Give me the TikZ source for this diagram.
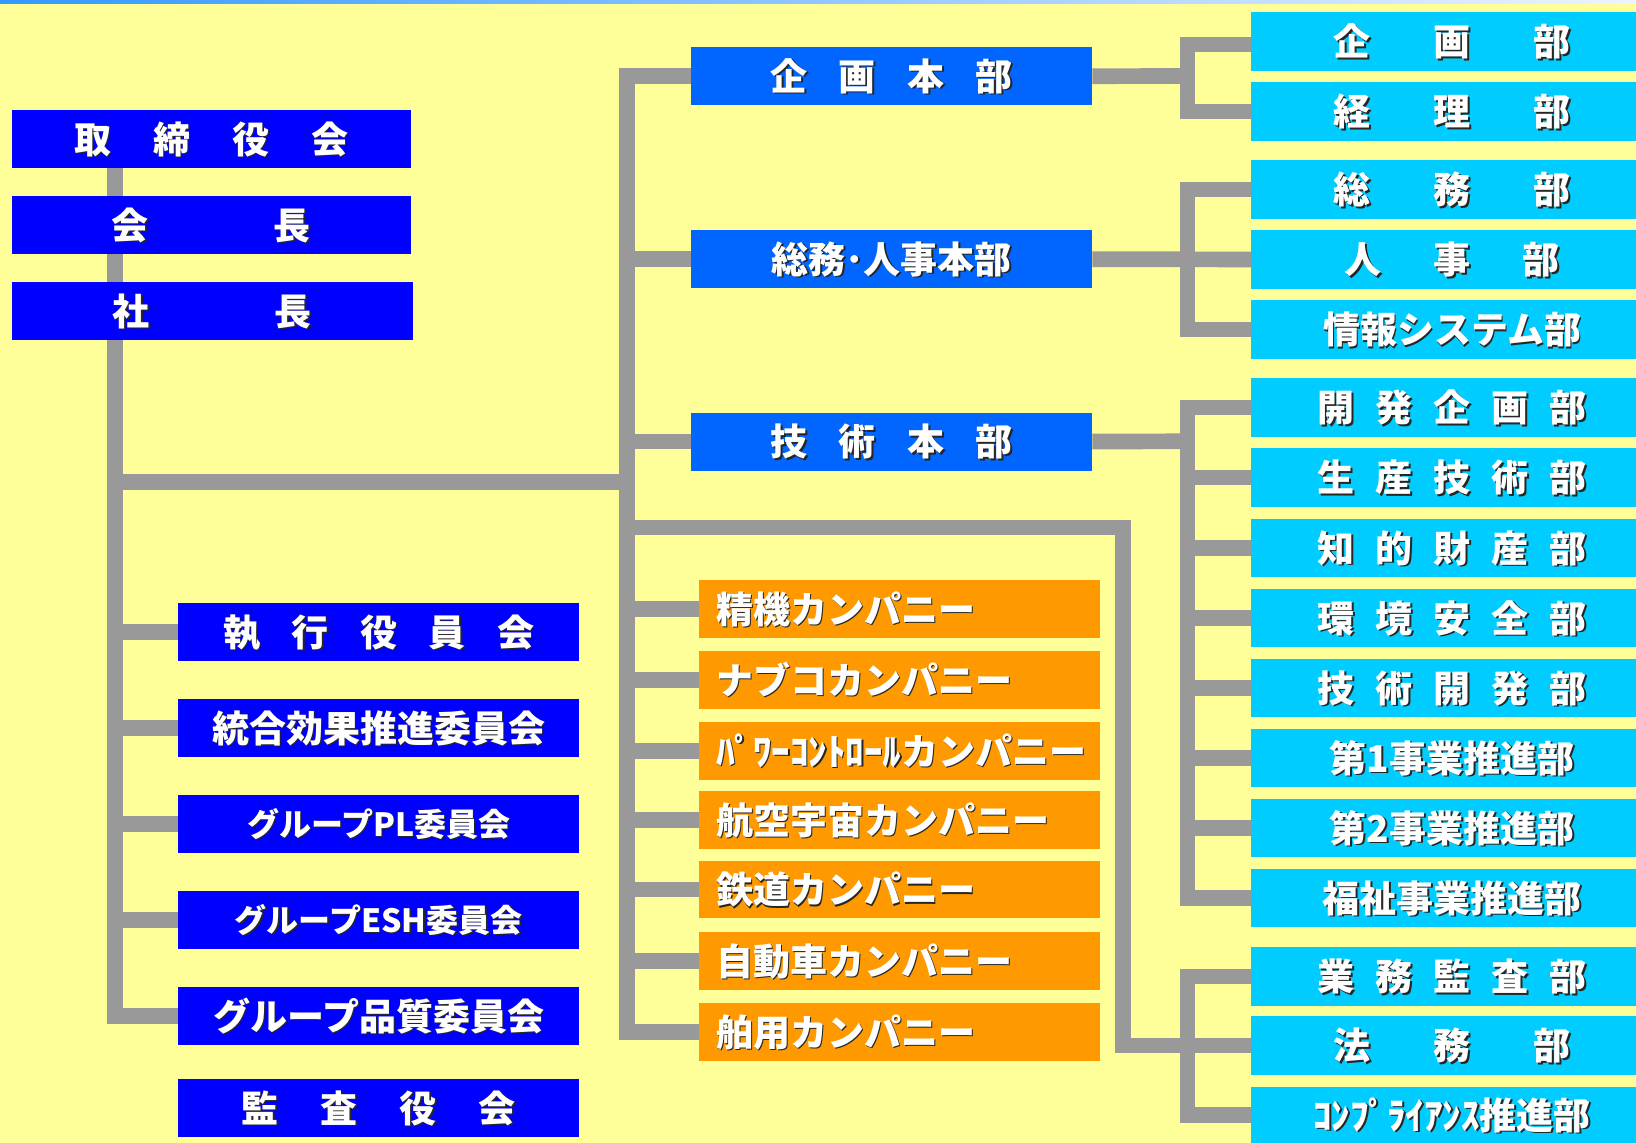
\documentclass[tikz,border=0pt]{standalone}
\usepackage{fontspec}
\newfontfamily\jp{Noto Sans CJK JP}
\usetikzlibrary{calc}
\definecolor{bgy}{HTML}{FFFF99}
\definecolor{topblue}{HTML}{0000FF}
\definecolor{hqblue}{HTML}{0066FF}
\definecolor{deptcy}{HTML}{00CCFF}
\definecolor{compor}{HTML}{FF9900}
\definecolor{linegray}{HTML}{999999}
\definecolor{bandblue}{HTML}{3399FF}
\definecolor{bandend}{HTML}{EEF3FF}
\pgfdeclarelayer{bglayer}
\pgfdeclarelayer{linelayer}
\pgfsetlayers{bglayer,linelayer,main}
\newcommand\gp[1]{\hspace*{#1pt}}
\newcommand\shd[1]{\leavevmode\rlap{\kern1.6pt\raisebox{-1.6pt}{\color{black!85}#1}}#1}
\newcommand\fbig{\fontsize{37pt}{37pt}\selectfont}
\newcommand\fsml{\fontsize{32pt}{32pt}\selectfont}
\newcommand\cmp[1]{\makebox[401pt][l]{\hspace*{17pt}\shd{#1}}}
\newcommand\dpt[1]{\hspace*{17pt}\shd{#1}}
\tikzset{
  box/.style={rectangle, inner sep=0pt, anchor=north west, minimum height=57.7pt,
    text=white, font=\jp\bfseries\fbig, text height=32.6pt, text depth=4.4pt},
  smalltext/.style={font=\jp\bfseries\fsml, text height=28.2pt, text depth=3.8pt},
  topbox/.style={box, fill=topblue, minimum width=398.5pt},
  comm/.style={box, fill=topblue, minimum width=401pt},
  hq/.style={box, fill=hqblue, minimum width=401pt, minimum height=58pt},
  comp/.style={box, fill=compor, minimum width=401pt},
  dept/.style={box, fill=deptcy, minimum width=385pt, minimum height=58.5pt},
  conn/.style={draw=linegray, line width=15.7pt}
}
\begin{document}
\begin{tikzpicture}[x=1pt, y=-1pt]
\useasboundingbox (0,0) rectangle (1636,1143);
\begin{pgfonlayer}{bglayer}
\fill[bgy] (0,0) rectangle (1636,1143);
\shade[left color=bandblue, right color=bandend] (0,0) rectangle (1636,3.7);
\end{pgfonlayer}

% coordinates for trunks
\coordinate (ltop) at (115,167.7);
\coordinate (j1) at (115,482);
\coordinate (j2) at (627,482);
\coordinate (k1) at (627,527.5);
\coordinate (k2) at (1123,527.5);
\coordinate (bA) at (1187.5,76);
\coordinate (bB) at (1187.5,259);
\coordinate (bC) at (1187.5,441.3);
\coordinate (bD) at (1187.5,1045);

% ---------- nodes ----------
\node[topbox] (tor) at (11.9,110) {\shd{取\gp{42}締\gp{42}役\gp{42}会}};
\node[topbox] (kaicho) at (11.9,196) {\shd{会\gp{125}長}};
\node[topbox, minimum width=400.5pt] (shacho) at (11.9,282) {\shd{社\gp{125}長}};

\node[comm] (shikko) at (178,603) {\shd{執\gp{31.6}行\gp{31.6}役\gp{31.6}員\gp{31.6}会}};
\node[comm] (togo) at (178,699) {\shd{統合効果推進委員会}};
\node[comm, smalltext] (pl) at (178,795) {\shd{グループPL委員会}};
\node[comm, smalltext] (esh) at (178,891) {\shd{グループESH委員会}};
\node[comm] (hinshitsu) at (178,987) {\shd{グループ品質委員会}};
\node[comm] (kansa) at (178,1079) {\shd{監\gp{42}査\gp{42}役\gp{42}会}};

\node[hq] (hq1) at (691,47) {\shd{企\gp{31.5}画\gp{31.5}本\gp{31.5}部}};
\node[hq] (hq2) at (691,230) {\shd{総務･人事本部}};
\node[hq] (hq3) at (691,412.3) {\shd{技\gp{31.5}術\gp{31.5}本\gp{31.5}部}};

\node[comp] (c1) at (699,580) {\cmp{精機カンパニー}};
\node[comp] (c2) at (699,651) {\cmp{ナブコカンパニー}};
\node[comp] (c3) at (699,722) {\cmp{ﾊﾟﾜｰｺﾝﾄﾛｰﾙカンパニー}};
\node[comp] (c4) at (699,791) {\cmp{航空宇宙カンパニー}};
\node[comp] (c5) at (699,860.5) {\cmp{鉄道カンパニー}};
\node[comp] (c6) at (699,932) {\cmp{自動車カンパニー}};
\node[comp] (c7) at (699,1003) {\cmp{舶用カンパニー}};

\node[dept] (d1) at (1251,12) {\dpt{企\gp{63}画\gp{63}部}};
\node[dept] (d2) at (1251,82) {\dpt{経\gp{63}理\gp{63}部}};
\node[dept] (d3) at (1251,160) {\dpt{総\gp{63}務\gp{63}部}};
\node[dept] (d4) at (1251,230) {\dpt{人\gp{52}事\gp{52}部}};
\node[dept] (d5) at (1251,300) {\dpt{情報システム部}};
\node[dept] (d6) at (1251,378) {\dpt{開\gp{21}発\gp{21}企\gp{21}画\gp{21}部}};
\node[dept] (d7) at (1251,448) {\dpt{生\gp{21}産\gp{21}技\gp{21}術\gp{21}部}};
\node[dept] (d8) at (1251,518.5) {\dpt{知\gp{21}的\gp{21}財\gp{21}産\gp{21}部}};
\node[dept] (d9) at (1251,588.5) {\dpt{環\gp{21}境\gp{21}安\gp{21}全\gp{21}部}};
\node[dept] (d10) at (1251,658.5) {\dpt{技\gp{21}術\gp{21}開\gp{21}発\gp{21}部}};
\node[dept] (d11) at (1251,728.5) {\dpt{第1事業推進部}};
\node[dept] (d12) at (1251,798.5) {\dpt{第2事業推進部}};
\node[dept] (d13) at (1251,868.5) {\dpt{福祉事業推進部}};
\node[dept] (d14) at (1251,947) {\dpt{業\gp{21}務\gp{21}監\gp{21}査\gp{21}部}};
\node[dept] (d15) at (1251,1016) {\dpt{法\gp{63}務\gp{63}部}};
\node[dept, minimum height=56pt] (d16) at (1251,1087) {\dpt{ｺﾝﾌﾟﾗｲｱﾝｽ推進部}};

% ---------- connectors (behind boxes) ----------
\begin{pgfonlayer}{linelayer}
% left trunk
\draw[conn] (ltop) |- (hinshitsu.west);
\foreach \n in {shikko,togo,pl,esh} \draw[conn] (\n.west) -- (\n.west -| ltop);
\draw[conn] (j1) -- (j2);
% main trunk
\draw[conn] (hq1.west) -| (c7.west -| j2) -- (c7.west);
\foreach \n in {hq2,hq3,c1,c2,c3,c4,c5,c6} \draw[conn] (\n.west) -- (\n.west -| j2);
% line to legal department
\draw[conn] (k1) -- (k2) |- (d15.west);
% planning group
\draw[conn] (hq1.east) -- (bA);
\draw[conn] ([yshift=-3pt]d1.west) -| (bA) |- (d2.west);
% general affairs group
\draw[conn] (hq2.east) -- (d4.west);
\draw[conn] (d3.west) -| (bB) |- (d5.west);
% technology group
\draw[conn] (hq3.east) -- (bC);
\draw[conn] (d6.west) -| (bC) |- (d13.west);
\foreach \n in {d7,d8,d9,d10,d11,d12} \draw[conn] (\n.west) -- (\n.west -| bC);
% audit group
\draw[conn] (d14.west) -| (bD) |- (d16.west);
\end{pgfonlayer}
\end{tikzpicture}
\end{document}
